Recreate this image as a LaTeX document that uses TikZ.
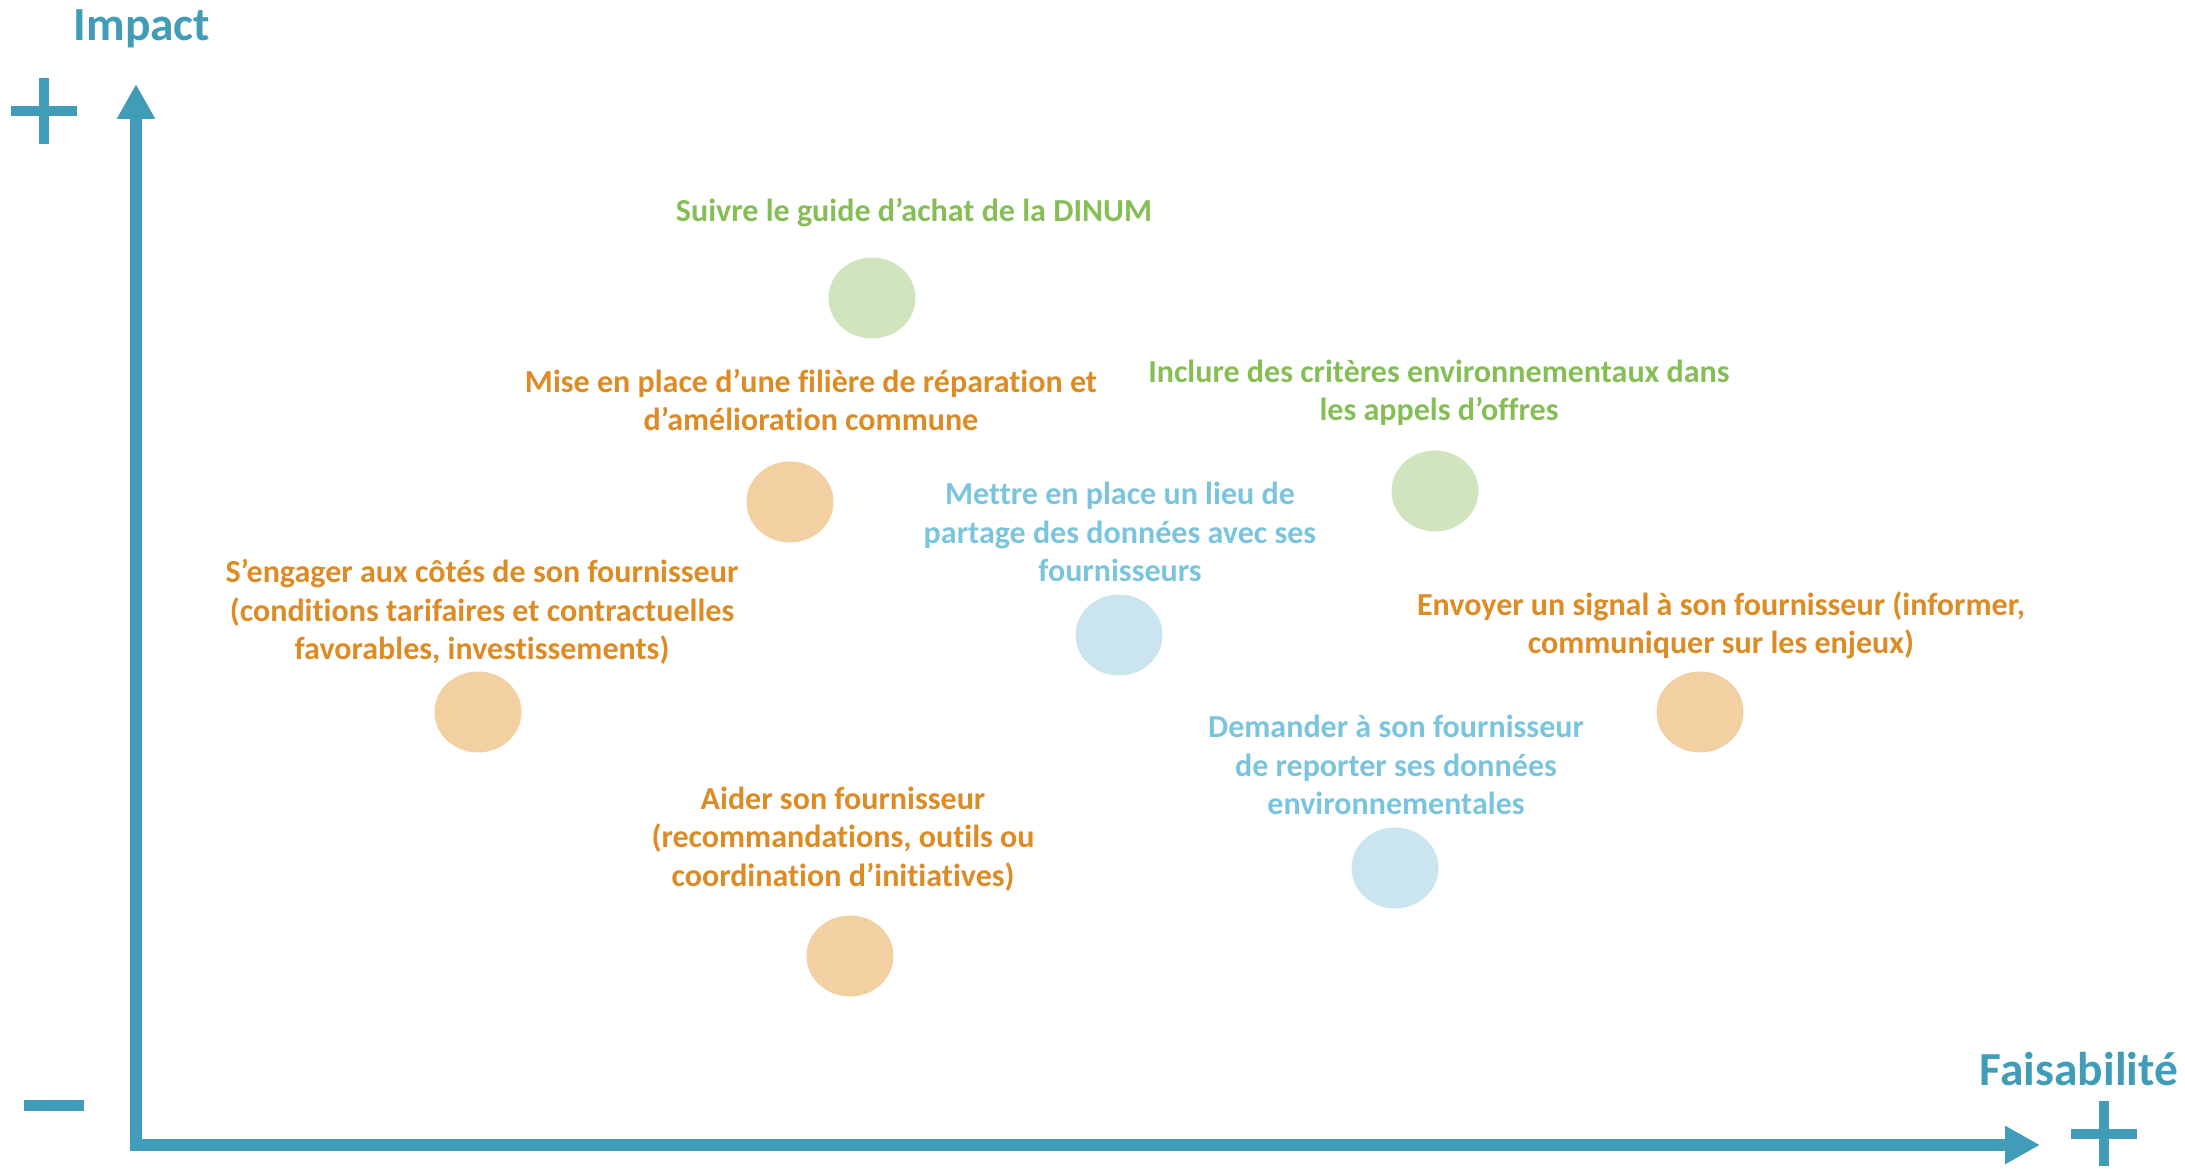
\documentclass[tikz,border=0pt]{standalone}
\usepackage{fontspec}
\setmainfont{Carlito}[Ligatures=NoCommon]
\definecolor{axisblue}{RGB}{65,156,184}
\definecolor{actgreen}{RGB}{134,190,86}
\definecolor{actgreenfill}{RGB}{208,228,190}
\definecolor{actorange}{RGB}{220,139,37}
\definecolor{actorangefill}{RGB}{242,208,162}
\definecolor{actblue}{RGB}{122,196,222}
\definecolor{actbluefill}{RGB}{203,229,240}
\usetikzlibrary{arrows.meta,positioning,shapes.geometric}

\begin{document}
\begin{tikzpicture}[
    action/.style={align=center, inner sep=0pt,
                   font=\fontsize{9.12}{10.9}\selectfont\bfseries},
    dot/.style={ellipse, minimum width=0.87cm, minimum height=0.81cm, inner sep=0pt},
    axislabel/.style={text=axisblue, inner sep=0pt,
                      font=\fontsize{13.5}{16}\selectfont\bfseries},
    axis/.style={line width=3.4pt, axisblue, line join=miter,
                 {Triangle[length=3.5mm,width=3.6mm]}-{Triangle[length=3.5mm,width=3.6mm]}},
    sign/.style={line width=1mm, axisblue}
  ]
    \useasboundingbox (0,0) rectangle (21.85,11.69);

    % Axes
    \coordinate (origin) at (1.36,0.24);
    \coordinate (ytop) at (1.36,10.85);
    \coordinate (xend) at (20.40,0.24);
    \draw[axis] (ytop) -- (origin) -- (xend);

    \node[axislabel] (impact) at (1.42,11.40) {Impact};
    \node[axislabel] (faisab) at (20.79,1.00) {Faisabilité};

    % plus / minus marks
    \draw[sign] (0.11,10.58) -- (0.77,10.58) (0.44,10.91) -- (0.44,10.25);
    \draw[sign] (20.71,0.35) -- (21.37,0.35) (21.04,0.68) -- (21.04,0.03);
    \draw[sign, line width=1.1mm] (0.24,0.63) -- (0.84,0.63);

    % Actions
    \node[action, text=actgreen] (guide) at (9.14,9.56)
      {Suivre le guide d’achat de la DINUM};
    \node[dot, fill=actgreenfill] (guide-dot) at (8.72,8.71) {};

    \node[action, text=actorange] (filiere) at (8.11,7.69)
      {Mise en place d’une filière de réparation et\\ d’amélioration commune};
    \node[dot, fill=actorangefill] (filiere-dot) at (7.90,6.67) {};

    \node[action, text=actgreen] (criteres) at (14.39,7.76)
      {Inclure des critères environnementaux dans\\ les appels d’offres};
    \node[dot, fill=actgreenfill] (criteres-dot) at (14.35,6.78) {};

    \node[action, text=actblue] (partage) at (11.20,6.37)
      {Mettre en place un lieu de\\ partage des données avec ses\\ fournisseurs};
    \node[dot, fill=actbluefill] (partage-dot) at (11.19,5.34) {};

    \node[action, text=actorange] (engager) at (4.82,5.57)
      {S’engager aux côtés de son fournisseur\\ (conditions tarifaires et contractuelles\\ favorables, investissements)};
    \node[dot, fill=actorangefill] (engager-dot) at (4.78,4.57) {};

    \node[action, text=actorange] (signal) at (17.21,5.44)
      {Envoyer un signal à son fournisseur (informer,\\ communiquer sur les enjeux)};
    \node[dot, fill=actorangefill] (signal-dot) at (17.00,4.57) {};

    \node[action, text=actblue] (reporter) at (13.96,4.04)
      {Demander à son fournisseur\\ de reporter ses données\\ environnementales};
    \node[dot, fill=actbluefill] (reporter-dot) at (13.95,3.01) {};

    \node[action, text=actorange] (aider) at (8.43,3.30)
      {Aider son fournisseur\\ (recommandations, outils ou\\ coordination d’initiatives)};
    \node[dot, fill=actorangefill] (aider-dot) at (8.50,2.13) {};
  \end{tikzpicture}
\end{document}
